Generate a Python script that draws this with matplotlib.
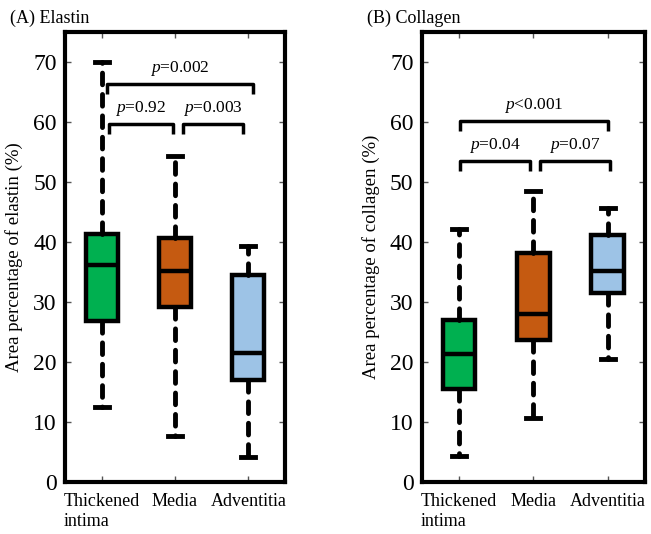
import matplotlib
matplotlib.use("Agg")
import matplotlib.pyplot as plt

plt.rcParams["font.family"] = ["Liberation Serif", "DejaVu Serif"]
plt.rcParams["mathtext.fontset"] = "custom"
plt.rcParams["mathtext.rm"] = "Liberation Serif"
plt.rcParams["mathtext.it"] = "Liberation Serif:italic"

groups = ["Thickened\nintima", "Media", "Adventitia"]
colors = ["#00b050", "#c55a11", "#9dc3e6"]

# five-number summaries: low whisker, q1, median, q3, high whisker
elastin_lo = [12.5, 7.7, 4.2]
elastin_q1 = [26.9, 29.2, 17.0]
elastin_med = [36.2, 35.2, 21.5]
elastin_q3 = [41.3, 40.7, 34.5]
elastin_hi = [70.0, 54.3, 39.3]

collagen_lo = [4.4, 10.7, 20.5]
collagen_q1 = [15.5, 23.7, 31.5]
collagen_med = [21.3, 28.0, 35.1]
collagen_q3 = [27.0, 38.2, 41.2]
collagen_hi = [42.1, 48.4, 45.7]

# comparisons: (from, to, bracket height, p text)
elastin_pairs = [(1.1, 1.97, 59.6, "=0.92"), (2.11, 2.93, 59.6, "=0.003"),
                 (1.07, 3.06, 66.3, "=0.002")]
collagen_pairs = [(1.01, 1.95, 53.4, "=0.04"), (2.09, 3.03, 53.4, "=0.07"),
                  (1.01, 3.0, 60.1, "<0.001")]


def draw_panel(ax, lo, q1, med, q3, hi, pairs, ylabel):
    stats = []
    for i in range(len(groups)):
        stats.append(dict(whislo=lo[i], q1=q1[i], med=med[i], q3=q3[i],
                          whishi=hi[i], fliers=[]))
    bp = ax.bxp(stats, positions=[1, 2, 3], widths=0.44, capwidths=0.19,
                patch_artist=True, showfliers=False,
                boxprops=dict(linewidth=3.2, edgecolor="black"),
                medianprops=dict(linewidth=3.2, color="black"),
                whiskerprops=dict(linewidth=3.5, color="black",
                                  linestyle=(0, (2.4, 2.0)),
                                  dash_capstyle="round"),
                capprops=dict(linewidth=3.5, color="black"))
    for patch, c in zip(bp["boxes"], colors):
        patch.set_facecolor(c)

    for x1, x2, y, txt in pairs:
        ax.plot([x1, x1, x2, x2], [y - 1.6, y, y, y - 1.6], color="black",
                linewidth=2.5, solid_joinstyle="round", solid_capstyle="butt")
        ax.text((x1 + x2) / 2, y + 2.6, r"$p$" + txt, ha="center",
                va="center", fontsize=12.5)

    ax.set_xlim(0.5, 3.5)
    ax.set_ylim(0, 75)
    ax.set_yticks(range(0, 80, 10))
    ax.set_xticks([1, 2, 3])
    ax.set_xticklabels(groups, fontsize=13, multialignment="left")
    ax.tick_params(axis="y", labelsize=17, direction="in", length=4,
                   width=1, color="#555555", right=True, pad=6)
    ax.tick_params(axis="x", direction="in", length=4, width=1,
                   color="#555555", top=True, pad=8)
    for s in ax.spines.values():
        s.set_linewidth(3)
    ax.set_ylabel(ylabel, fontsize=13.5, labelpad=7)


fig = plt.figure(figsize=(6.51, 5.34), dpi=100)
ax1 = fig.add_axes([0.0998, 0.0974, 0.338, 0.843])
ax2 = fig.add_axes([0.648, 0.0974, 0.3425, 0.843])

draw_panel(ax1, elastin_lo, elastin_q1, elastin_med, elastin_q3, elastin_hi,
           elastin_pairs, "Area percentage of elastin (%)")
draw_panel(ax2, collagen_lo, collagen_q1, collagen_med, collagen_q3,
           collagen_hi, collagen_pairs, "Area percentage of collagen (%)")

fig.text(0.015, 0.982, "(A) Elastin", fontsize=13, va="top")
fig.text(0.563, 0.982, "(B) Collagen", fontsize=13, va="top")

fig.savefig("out.png", dpi=100)
